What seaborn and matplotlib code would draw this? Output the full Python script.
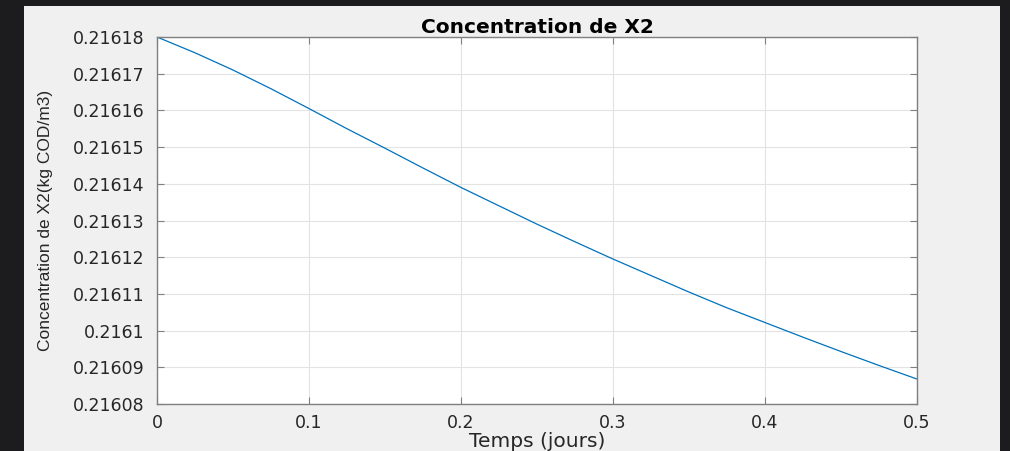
import matplotlib
matplotlib.use('Agg')
import matplotlib.pyplot as plt
import matplotlib.patches as mpatches
import seaborn as sns
import pandas as pd

# ─── Data ────────────────────────────────────────────────────
temps = [0.0, 0.025, 0.05, 0.075, 0.1, 0.125, 0.15, 0.175, 0.2, 0.225, 0.25,
         0.275, 0.3, 0.325, 0.35, 0.375, 0.4, 0.425, 0.45, 0.475, 0.5]
conc_x2 = [0.2161800, 0.2161757, 0.2161710, 0.2161659, 0.2161605, 0.2161550,
           0.2161497, 0.2161443, 0.2161390, 0.2161340, 0.2161290, 0.2161242,
           0.2161195, 0.2161150, 0.2161105, 0.2161062, 0.2161022, 0.2160982,
           0.2160943, 0.2160905, 0.2160868]
x_ticks = [0, 0.1, 0.2, 0.3, 0.4, 0.5]
x_tick_labels = ['0', '0.1', '0.2', '0.3', '0.4', '0.5']
y_ticks = [0.21608, 0.21609, 0.2161, 0.21611, 0.21612, 0.21613,
           0.21614, 0.21615, 0.21616, 0.21617, 0.21618]
y_tick_labels = ['0.21608', '0.21609', '0.2161', '0.21611', '0.21612', '0.21613',
                 '0.21614', '0.21615', '0.21616', '0.21617', '0.21618']

df = pd.DataFrame({'t': temps, 'c': conc_x2})

sns.set_theme(style="white")
plt.rcParams['font.family'] = ['DejaVu Sans']

fig = plt.figure(figsize=(10.1, 4.51), dpi=100)
fig.patch.set_facecolor('#1c1b1e')
# light grey MATLAB figure panel inside the dark frame
fig.patches.append(mpatches.Rectangle((24 / 1010, 0), 976 / 1010, 445 / 451,
                                      transform=fig.transFigure, facecolor='#f0f0f0',
                                      edgecolor='none', zorder=-10))

ax = fig.add_axes([157 / 1010, 1 - 404 / 451, 760 / 1010, 367 / 451])
ax.set_zorder(5)
ax.set_facecolor('white')

sns.lineplot(data=df, x='t', y='c', color='#0072BD', linewidth=0.9, ax=ax)

ax.set_xlim(0, 0.5)
ax.set_ylim(0.21608, 0.21618)
ax.set_xticks(x_ticks)
ax.set_xticklabels(x_tick_labels, fontsize=12.5, color='#262626')
ax.set_yticks(y_ticks)
ax.set_yticklabels(y_tick_labels, fontsize=12.5, color='#262626')
ax.grid(True, color='#e3e3e3', linewidth=0.8)
ax.tick_params(axis='y', pad=9)
ax.tick_params(axis='x', pad=7)
ax.tick_params(direction='in', length=5, width=0.8, color='#808080',
               top=True, right=True, bottom=True, left=True)
for s in ax.spines.values():
    s.set_visible(True)
    s.set_color('#808080')
    s.set_linewidth(1.0)

ax.set_title("Concentration de X2", fontsize=14.5, fontweight='bold', color='black', pad=3)
ax.set_xlabel("Temps (jours)", fontsize=14.5, color='#262626', labelpad=0)
ax.set_ylabel("Concentration de X2(kg COD/m3)", fontsize=12.5, color='#262626',
              family=['Liberation Sans'])
ax.yaxis.set_label_coords((53 - 157) / 760, 0.5)

fig.savefig('out.png', dpi=100, facecolor=fig.get_facecolor())
